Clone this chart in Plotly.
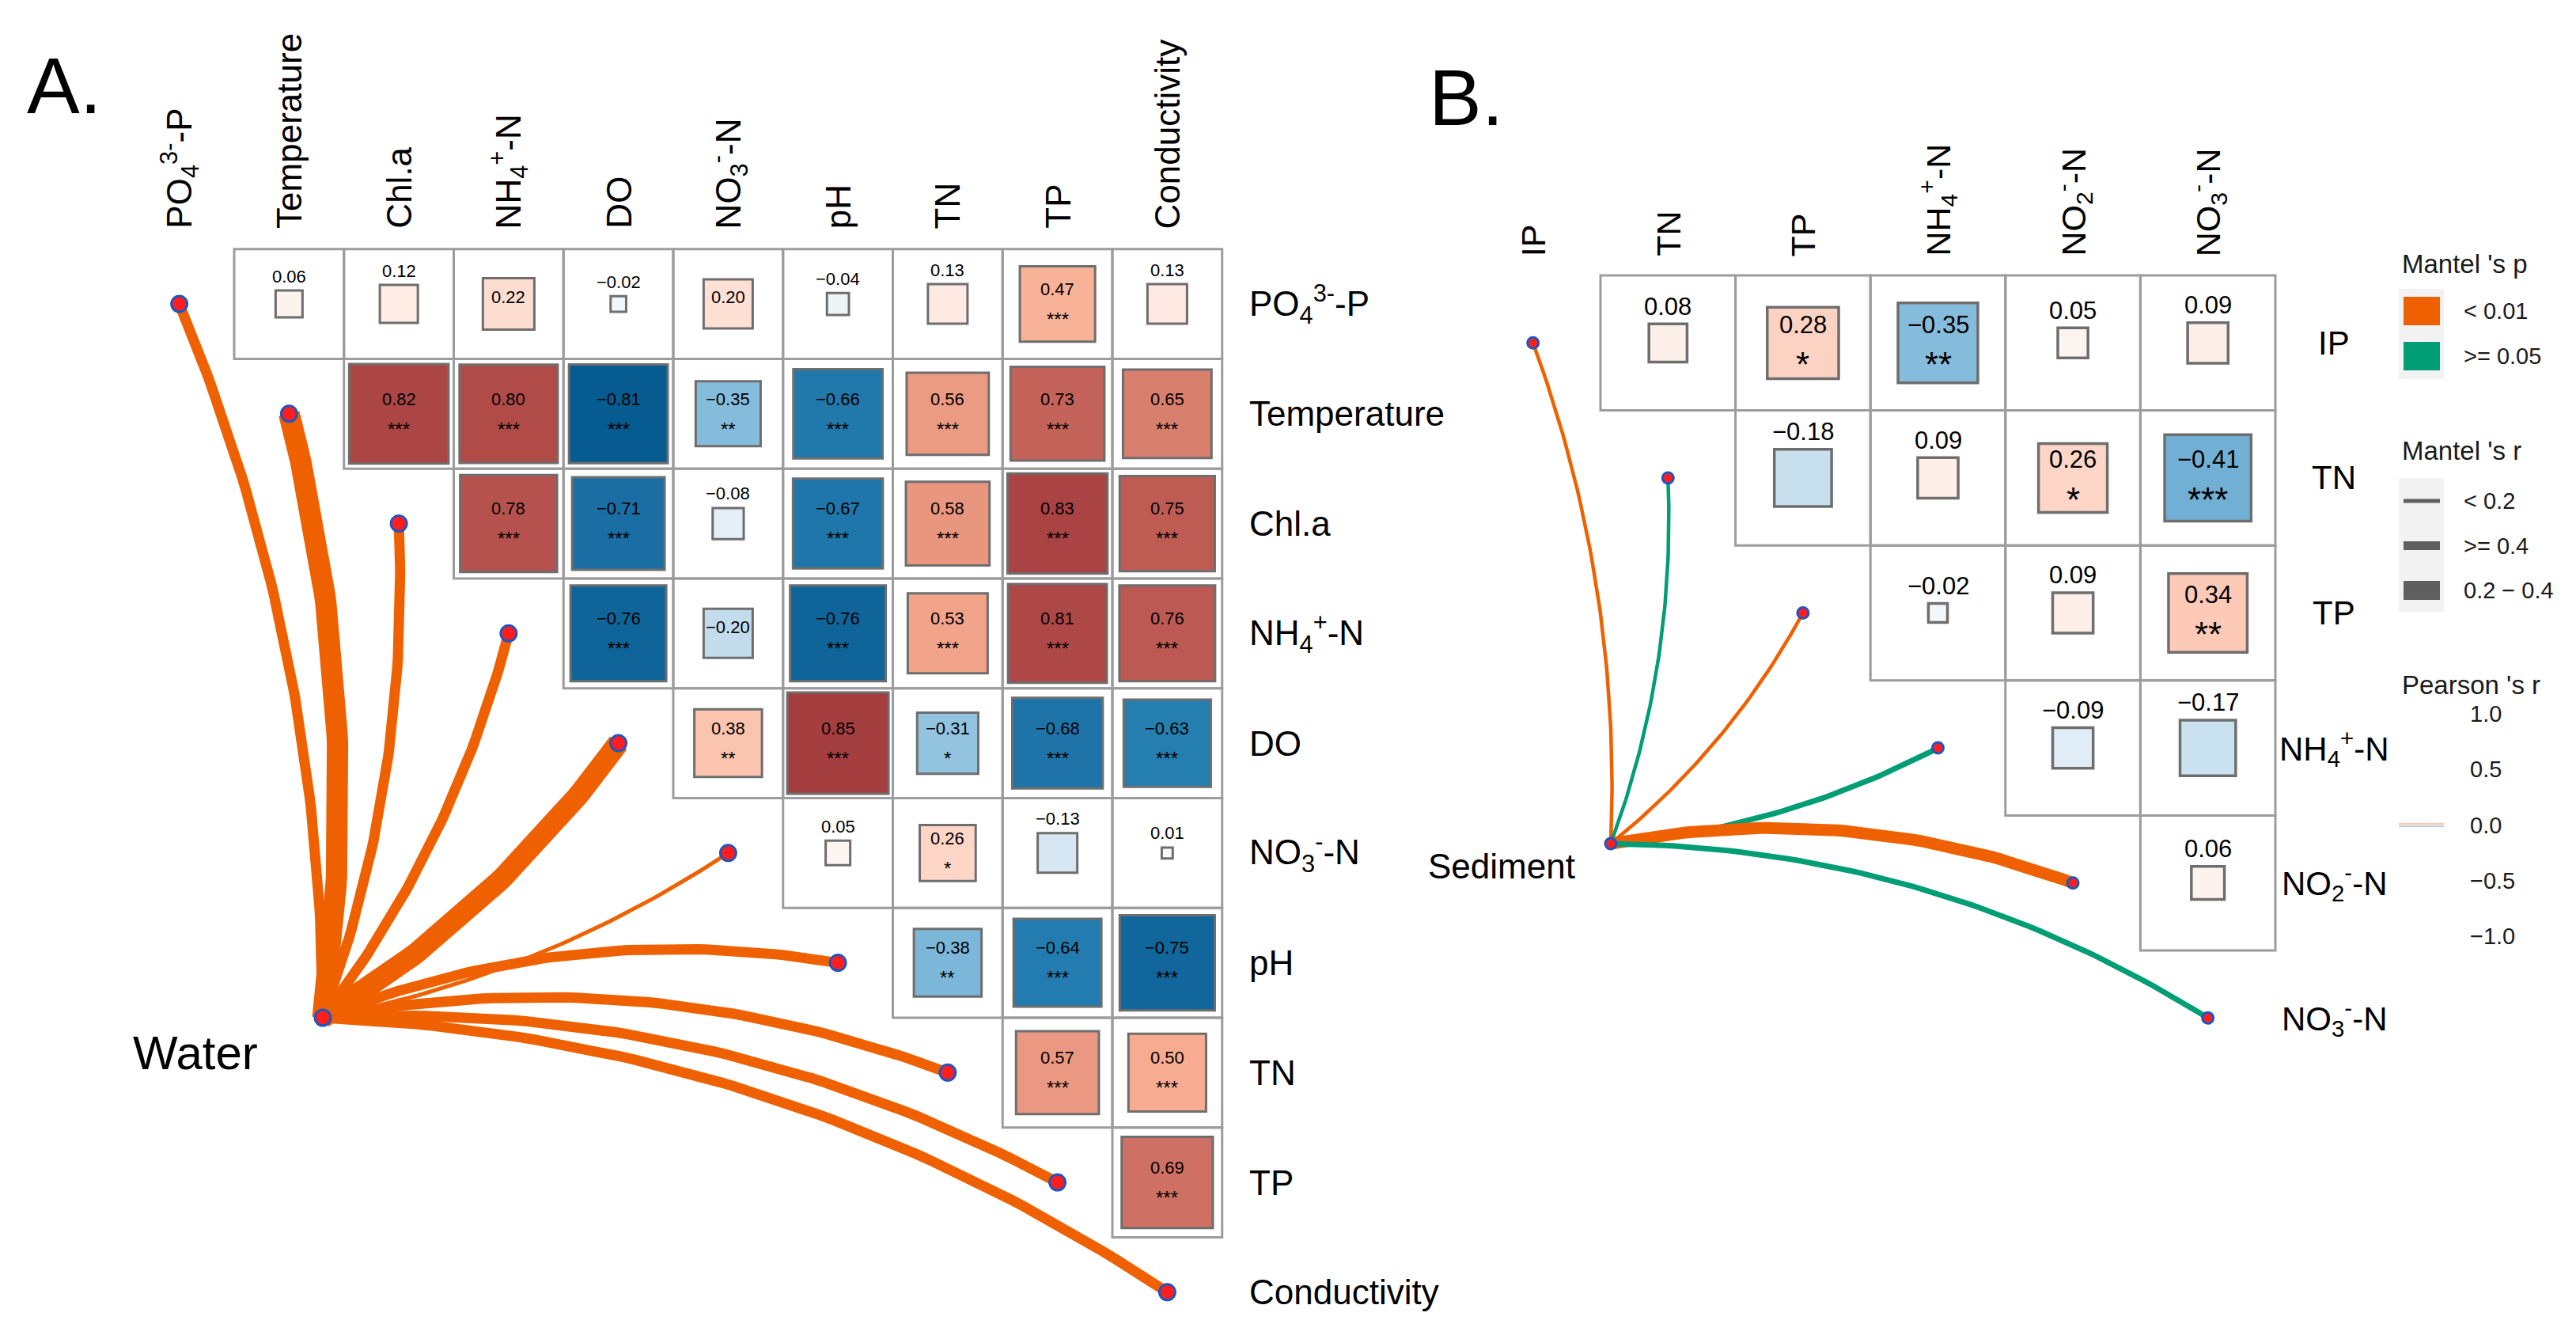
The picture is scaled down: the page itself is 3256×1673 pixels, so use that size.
import math
import plotly.graph_objects as go
from plotly.colors import sample_colorscale, hex_to_rgb

W, H = 3256, 1673
FONT = "Liberation Sans, Arial, sans-serif"

# ---------------- data ----------------
water_vars = ["PO<sub>4</sub><sup>3-</sup>-P", "Temperature", "Chl.a", "NH<sub>4</sub><sup>+</sup>-N",
              "DO", "NO<sub>3</sub><sup>-</sup>-N", "pH", "TN", "TP", "Conductivity"]
water_r = [
    [0.06, 0.12, 0.22, -0.02, 0.20, -0.04, 0.13, 0.47, 0.13],
    [0.82, 0.80, -0.81, -0.35, -0.66, 0.56, 0.73, 0.65],
    [0.78, -0.71, -0.08, -0.67, 0.58, 0.83, 0.75],
    [-0.76, -0.20, -0.76, 0.53, 0.81, 0.76],
    [0.38, 0.85, -0.31, -0.68, -0.63],
    [0.05, 0.26, -0.13, 0.01],
    [-0.38, -0.64, -0.75],
    [0.57, 0.50],
    [0.69],
]
water_sig = [
    ["", "", "", "", "", "", "", "***", ""],
    ["***", "***", "***", "**", "***", "***", "***", "***"],
    ["***", "***", "", "***", "***", "***", "***"],
    ["***", "", "***", "***", "***", "***"],
    ["**", "***", "*", "***", "***"],
    ["", "*", "", ""],
    ["**", "***", "***"],
    ["***", "***"],
    ["***"],
]
water_mantel_p = ["<0.01"] * 10
water_mantel_r = [">=0.4", "0.2-0.4", ">=0.4", ">=0.4", "0.2-0.4", "<0.2", ">=0.4", ">=0.4", ">=0.4", ">=0.4"]

sed_vars = ["IP", "TN", "TP", "NH<sub>4</sub><sup>+</sup>-N", "NO<sub>2</sub><sup>-</sup>-N", "NO<sub>3</sub><sup>-</sup>-N"]
sed_r = [
    [0.08, 0.28, -0.35, 0.05, 0.09],
    [-0.18, 0.09, 0.26, -0.41],
    [-0.02, 0.09, 0.34],
    [-0.09, -0.17],
    [0.06],
]
sed_sig = [
    ["", "*", "**", "", ""],
    ["", "", "*", "***"],
    ["", "", "**"],
    ["", ""],
    [""],
]
sed_mantel_p = ["<0.01", ">=0.05", "<0.01", ">=0.05", "<0.01", ">=0.05"]
sed_mantel_r = ["<0.2", "<0.2", "<0.2", ">=0.4", "0.2-0.4", ">=0.4"]

p_levels = ["<0.01", ">=0.05"]
p_labels = ["&lt; 0.01", "&gt;= 0.05"]
r_levels = ["<0.2", ">=0.4", "0.2-0.4"]
r_labels = ["&lt; 0.2", "&gt;= 0.4", "0.2 \u2212 0.4"]
pearson_ticks = [1.0, 0.5, 0.0, -0.5, -1.0]

# ---------------- styles ----------------
P_COLORS = {"<0.01": "#EF6100", ">=0.05": "#019D74"}
pearson_points = [(-1.0, '#053061'), (-0.8, '#065D93'), (-0.7, '#1C70A5'), (-0.62, '#2580B2'),
                  (-0.5, '#4C97C6'), (-0.4, '#76B2D6'), (-0.3, '#95C5E0'), (-0.2, '#C2DCEC'),
                  (-0.1, '#DEECF6'), (0.0, '#FAFAFA'), (0.1, '#FEEEE7'), (0.2, '#FEE0D5'),
                  (0.3, '#FCD0BF'), (0.4, '#FBC1AA'), (0.5, '#F7AC91'), (0.6, '#E5907A'),
                  (0.7, '#CB6D60'), (0.8, '#B14B48'), (0.9, '#983236'), (1.0, '#7A1A2A')]
PEARSON_SCALE = [[(v + 1) / 2, "rgb(%d, %d, %d)" % hex_to_rgb(c)] for v, c in pearson_points]


def rcolor(r):
    return sample_colorscale(PEARSON_SCALE, [(r + 1) / 2])[0]


def fmt(r):
    s = "%.2f" % abs(r)
    return ("\u2212" + s) if r < 0 else s


panels = [
    dict(vars=water_vars, r=water_r, sig=water_sig, mp=water_mantel_p, mr=water_mantel_r,
         x0=149.25, y0=306.7, cell=138.75, node=(400, 1278), node_label="Water",
         node_label_pos=(239, 1322), node_font=60, node_size=20,
         col_bottom=283, col_font=44, row_font=44, row_x=1569, row_anchor="left",
         val_font=22, star_font=24, sq_line=3, grid_line=3,
         widths={"<0.2": 5, ">=0.4": 13, "0.2-0.4": 27},
         tag="A.", tag_pos=(24, 100)),
    dict(vars=sed_vars, r=sed_r, sig=sed_sig, mp=sed_mantel_p, mr=sed_mantel_r,
         x0=1844.4, y0=340, cell=170.6, node=(2028, 1058), node_label="Sediment",
         node_label_pos=(1890, 1086), node_font=44, node_size=14,
         col_bottom=318, col_font=43, row_font=42, row_x=2942, row_anchor="center",
         val_font=31, star_font=44, sq_line=3.5, grid_line=3,
         widths={"<0.2": 4.5, ">=0.4": 7, "0.2-0.4": 15},
         tag="B.", tag_pos=(1796, 115)),
]

fig = go.Figure()
shapes = []
annotations = []


def ann(x, y, text, size, xanchor="center", yanchor="middle", angle=0, color="#000000"):
    annotations.append(dict(x=x, y=y, xref="x", yref="y", text=text, showarrow=False,
                            xanchor=xanchor, yanchor=yanchor, textangle=angle,
                            font=dict(family=FONT, size=size, color=color)))


for P in panels:
    c = P["cell"]
    n = len(P["vars"])
    cx = lambda j: P["x0"] + c * (j + 0.5)
    cy = lambda i: P["y0"] + c * (i + 0.5)

    # column labels
    for j, v in enumerate(P["vars"]):
        ann(cx(j), P["col_bottom"], v, P["col_font"], xanchor="center", yanchor="bottom", angle=-90)
    # row labels
    for i, v in enumerate(P["vars"]):
        ann(P["row_x"], cy(i), v, P["row_font"], xanchor=P["row_anchor"])

    # cells
    for i, row in enumerate(P["r"]):
        for k, r in enumerate(row):
            j = i + 1 + k
            xl, xr = P["x0"] + c * j, P["x0"] + c * (j + 1)
            yt, yb = P["y0"] + c * i, P["y0"] + c * (i + 1)
            shapes.append(dict(type="rect", xref="x", yref="y", x0=xl, x1=xr, y0=yt, y1=yb,
                               line=dict(color="#9C9C9C", width=P["grid_line"]), fillcolor="rgba(0,0,0,0)",
                               layer="below"))
            s = math.sqrt(abs(r)) * c
            mx, my = cx(j), cy(i)
            shapes.append(dict(type="rect", xref="x", yref="y", x0=mx - s / 2, x1=mx + s / 2,
                               y0=my - s / 2, y1=my + s / 2,
                               line=dict(color="#6E6E6E", width=P["sq_line"]), fillcolor=rcolor(r),
                               layer="below"))
            stars = P["sig"][i][k]
            if stars:
                ann(mx, my - 0.135 * c, fmt(r), P["val_font"])
                ann(mx, my + 0.095 * c + 0.25 * P["star_font"], stars, P["star_font"])
            elif abs(r) >= 0.195:
                ann(mx, my - 0.06 * c, fmt(r), P["val_font"])
            else:
                ann(mx, my - s / 2 - 0.13 * c, fmt(r), P["val_font"])

    # mantel links
    nx, ny = P["node"]
    for i in range(n):
        ex, ey = cx(i), cy(i)
        dx, dy = ex - nx, ey - ny
        L = math.hypot(dx, dy)
        ang = math.degrees(math.atan2(-dy, dx))
        if ang > 12:
            k, nrm = 0.10, (-dy / L, dx / L)
        else:
            k, nrm = 0.14, (dy / L, -dx / L)
        ctrl = ((nx + ex) / 2 + k * L * nrm[0], (ny + ey) / 2 + k * L * nrm[1])
        ts = [t / 60 for t in range(61)]
        xs = [(1 - t) ** 2 * nx + 2 * (1 - t) * t * ctrl[0] + t * t * ex for t in ts]
        ys = [(1 - t) ** 2 * ny + 2 * (1 - t) * t * ctrl[1] + t * t * ey for t in ts]
        fig.add_trace(go.Scatter(x=xs, y=ys, mode="lines", hoverinfo="skip", showlegend=False,
                                 line=dict(color=P_COLORS[P["mp"][i]], width=P["widths"][P["mr"][i]])))
    # dots
    dxs = [cx(i) for i in range(n)] + [nx]
    dys = [cy(i) for i in range(n)] + [ny]
    fig.add_trace(go.Scatter(x=dxs, y=dys, mode="markers", hoverinfo="skip", showlegend=False,
                             marker=dict(size=P["node_size"], color="#FF1E1E",
                                         line=dict(color="#1F55C0", width=3))))
    ann(P["node_label_pos"][0], P["node_label_pos"][1], P["node_label"], P["node_font"])
    ann(P["tag_pos"][0], P["tag_pos"][1], P["tag"], 100, xanchor="left")

# ---------------- legend ----------------
LX = 3026
KX0, KX1 = 3030, 3076
BX0, BX1 = 3024, 3081
TX = 3104
ann(LX, 325, "Mantel 's p", 33, xanchor="left", color="#1A1A1A")
shapes.append(dict(type="rect", xref="x", yref="y", x0=BX0, x1=BX1, y0=357, y1=471,
                   line=dict(width=0), fillcolor="#F2F2F2", layer="below"))
for q, (lev, lab) in enumerate(zip(p_levels, p_labels)):
    yc = 385 + q * 57
    shapes.append(dict(type="rect", xref="x", yref="y", x0=KX0, x1=KX1, y0=yc - 18, y1=yc + 18,
                       line=dict(width=0), fillcolor=P_COLORS[lev]))
    ann(TX, yc, lab, 29, xanchor="left", color="#1A1A1A")

ann(LX, 561, "Mantel 's r", 33, xanchor="left", color="#1A1A1A")
shapes.append(dict(type="rect", xref="x", yref="y", x0=BX0, x1=BX1, y0=596, y1=765,
                   line=dict(width=0), fillcolor="#F2F2F2", layer="below"))
legend_widths = {"<0.2": 5, ">=0.4": 11, "0.2-0.4": 24}
for q, (lev, lab) in enumerate(zip(r_levels, r_labels)):
    yc = 625 + q * 56.5
    shapes.append(dict(type="line", xref="x", yref="y", x0=KX0, x1=KX1, y0=yc, y1=yc,
                       line=dict(color="#5F5F5F", width=legend_widths[lev])))
    ann(TX, yc, lab, 29, xanchor="left", color="#1A1A1A")

ann(LX, 857, "Pearson 's r", 33, xanchor="left", color="#1A1A1A")
for q, v in enumerate(pearson_ticks):
    yc = 894 + q * 70.3
    ann(3112, yc, ("\u2212%.1f" % abs(v)) if v < 0 else "%.1f" % v, 29, xanchor="left", color="#1A1A1A")
    if v == 0.0:
        shapes.append(dict(type="line", xref="x", yref="y", x0=BX0, x1=BX1, y0=yc - 1.5, y1=yc - 1.5,
                           line=dict(color=rcolor(0.35), width=2.5)))
        shapes.append(dict(type="line", xref="x", yref="y", x0=BX0, x1=BX1, y0=yc + 1.5, y1=yc + 1.5,
                           line=dict(color=rcolor(-0.3), width=1.5)))

fig.update_layout(
    width=W, height=H, margin=dict(l=0, r=0, t=0, b=0),
    paper_bgcolor="white", plot_bgcolor="white",
    xaxis=dict(range=[0, W], visible=False, fixedrange=True),
    yaxis=dict(range=[H, 0], visible=False, fixedrange=True),
    shapes=shapes, annotations=annotations, showlegend=False,
)
fig.write_html("out.html")
